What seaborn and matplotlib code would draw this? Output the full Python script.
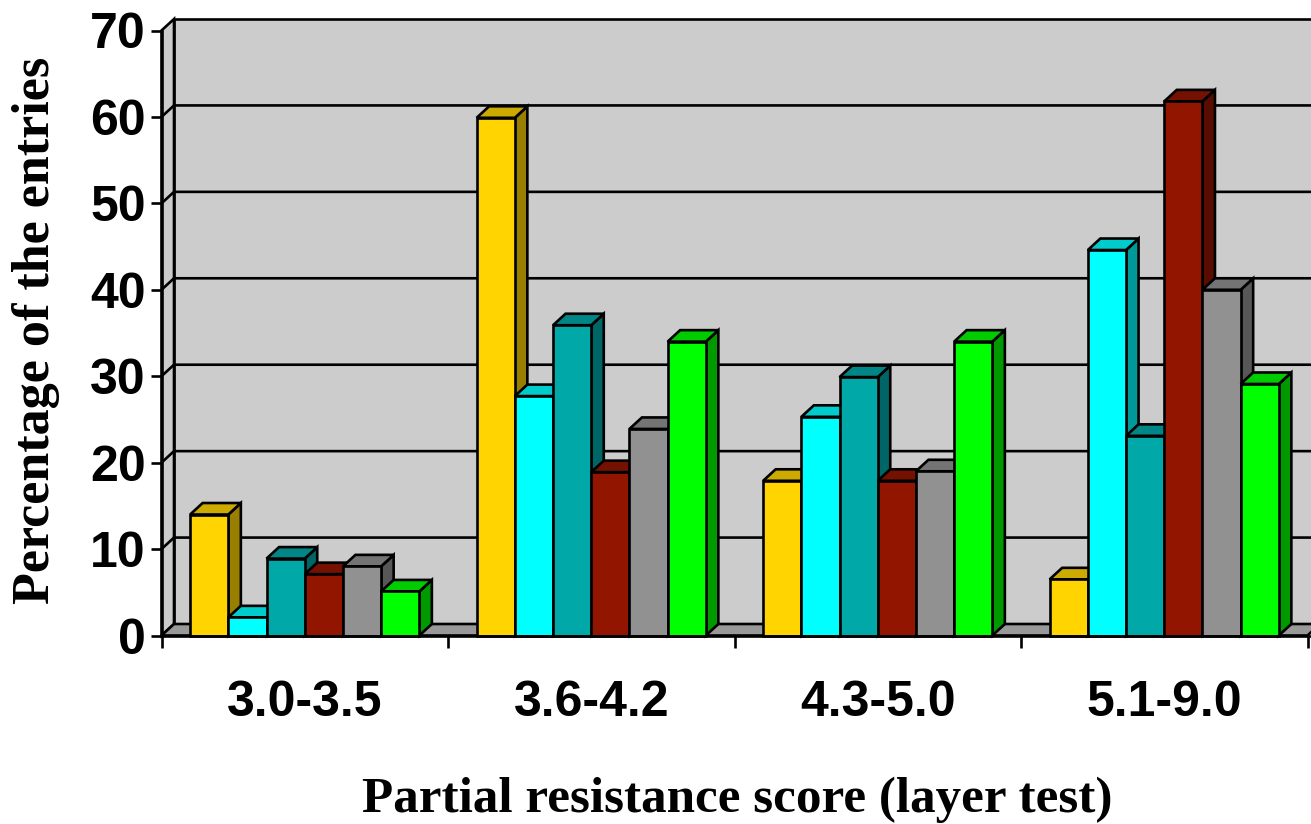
import matplotlib
matplotlib.use("Agg")
import matplotlib.pyplot as plt
from matplotlib.colors import to_rgb
from matplotlib.patches import Polygon
import pandas as pd
import seaborn as sns

# ---------------------------
# Data
# ---------------------------
score_classes = ["3.0-3.5", "3.6-4.2", "4.3-5.0", "5.1-9.0"]
series_names = ["s1", "s2", "s3", "s4", "s5", "s6"]
s1 = [14.0, 59.9, 17.9, 6.5]
s2 = [2.1, 27.7, 25.3, 44.6]
s3 = [8.9, 35.9, 29.9, 23.1]
s4 = [7.1, 18.9, 17.9, 61.8]
s5 = [8.0, 23.9, 19.0, 40.0]
s6 = [5.1, 34.0, 34.0, 29.1]
y_ticks = [0, 10, 20, 30, 40, 50, 60, 70]

colors = ["#FFD400", "#00FFFF", "#00A8A8", "#921500", "#919191", "#00FF00"]
WALL = "#CCCCCC"
FLOOR = "#999999"
LW = 1.9

rows = []
for name, vals in zip(series_names, [s1, s2, s3, s4, s5, s6]):
    for cls, v in zip(score_classes, vals):
        rows.append({"score": cls, "pct": v, "series": name})
df = pd.DataFrame(rows)

sns.set_theme(style="white")
plt.rcParams["font.family"] = ["Liberation Sans", "DejaVu Sans"]
plt.rcParams["text.color"] = "black"
plt.rcParams["axes.labelcolor"] = "black"
plt.rcParams["xtick.labelcolor"] = "black"
plt.rcParams["ytick.labelcolor"] = "black"

W, H = 1311, 824
fig = plt.figure(figsize=(W / 100, H / 100), dpi=100)
ax = fig.add_axes([161.5 / W, (H - 635.5) / H, 1146 / W, 605 / H])

sns.barplot(data=df, x="score", y="pct", hue="series", palette=colors,
            saturation=1, width=0.8, gap=0, edgecolor="black", linewidth=LW,
            legend=False, ax=ax, zorder=5)
ax.set_xlim(-0.5, 3.5)
ax.set_ylim(0, 70)
ax.patch.set_visible(False)

# depth of the fake 3D, in data units
dx = 12.5 / 286.5
dy = 11.5 / (605 / 70)


def shade(col, f):
    return tuple(c * f for c in to_rgb(col))


def poly(pts, fc, z):
    ax.add_patch(Polygon(pts, closed=True, facecolor=fc, edgecolor="black",
                         linewidth=LW, joinstyle="miter", zorder=z, clip_on=False))


# ---------------------------
# Walls and floor
# ---------------------------
x0, x1 = -0.5, 3.5
poly([(x0 + dx, dy), (x0 + dx, 70 + dy), (x1 + dx, 70 + dy), (x1 + dx, dy)], WALL, 1)
poly([(x0, 0), (x0, 70), (x0 + dx, 70 + dy), (x0 + dx, dy)], WALL, 1)
poly([(x0, 0), (x0 + dx, dy), (x1 + dx, dy), (x1, 0)], FLOOR, 1)
for t in y_ticks[1:-1]:
    ax.plot([x0, x0 + dx, x1 + dx], [t, t + dy, t + dy], color="black", lw=LW,
            zorder=2, clip_on=False, solid_joinstyle="miter")

# ---------------------------
# Top and side faces from the bars seaborn drew
# ---------------------------
bars = [p for p in ax.patches if isinstance(p, matplotlib.patches.Rectangle) and p.get_height() > 0]
bars = sorted(bars, key=lambda b: b.get_x())
for i, bar in enumerate(bars):
    x, w, h = bar.get_x(), bar.get_width(), bar.get_height()
    col = bar.get_facecolor()
    z = 5 + i * 0.01
    poly([(x + w, 0), (x + w + dx, dy), (x + w + dx, h + dy), (x + w, h)], shade(col, 0.6), z)
    poly([(x, h), (x + dx, h + dy), (x + w + dx, h + dy), (x + w, h)], shade(col, 0.8), z)
    bar.set_zorder(z + 0.001)
    bar.set_clip_on(False)
    bar.set_joinstyle("miter")

# ---------------------------
# Axes, ticks, labels
# ---------------------------
sns.despine(ax=ax, top=True, right=True)
for side in ["left", "bottom"]:
    ax.spines[side].set_linewidth(LW)
    ax.spines[side].set_color("black")
    ax.spines[side].set_zorder(20)
ax.spines["bottom"].set_bounds(-0.5, 3.6)

ax.set_yticks(y_ticks)
ax.tick_params(axis="y", length=11.5 * 0.72, width=LW, color="black", left=True, pad=3)
for lab in ax.get_yticklabels():
    lab.set_fontsize(36)
    lab.set_fontweight("bold")

ax.set_xticks([-0.5, 0.5, 1.5, 2.5, 3.5])
ax.set_xticklabels([])
ax.set_xticks([0, 1, 2, 3], minor=True)
ax.set_xticklabels(score_classes, minor=True, fontsize=36, fontweight="bold")
ax.tick_params(axis="x", which="major", length=12 * 0.72, width=LW, color="black", bottom=True)
ax.tick_params(axis="x", which="minor", length=0, pad=32)

ax.set_xlabel("Partial resistance score (layer test)", family="Liberation Serif",
              fontweight="bold", fontsize=36.8)
ax.xaxis.set_label_coords(0.5022, -0.234)
ax.set_ylabel("Percentage of the entries", family="Liberation Serif",
              fontweight="bold", fontsize=37.5)
ax.yaxis.set_label_coords(-0.0885, 0.505)

fig.savefig("out.png", dpi=100)
